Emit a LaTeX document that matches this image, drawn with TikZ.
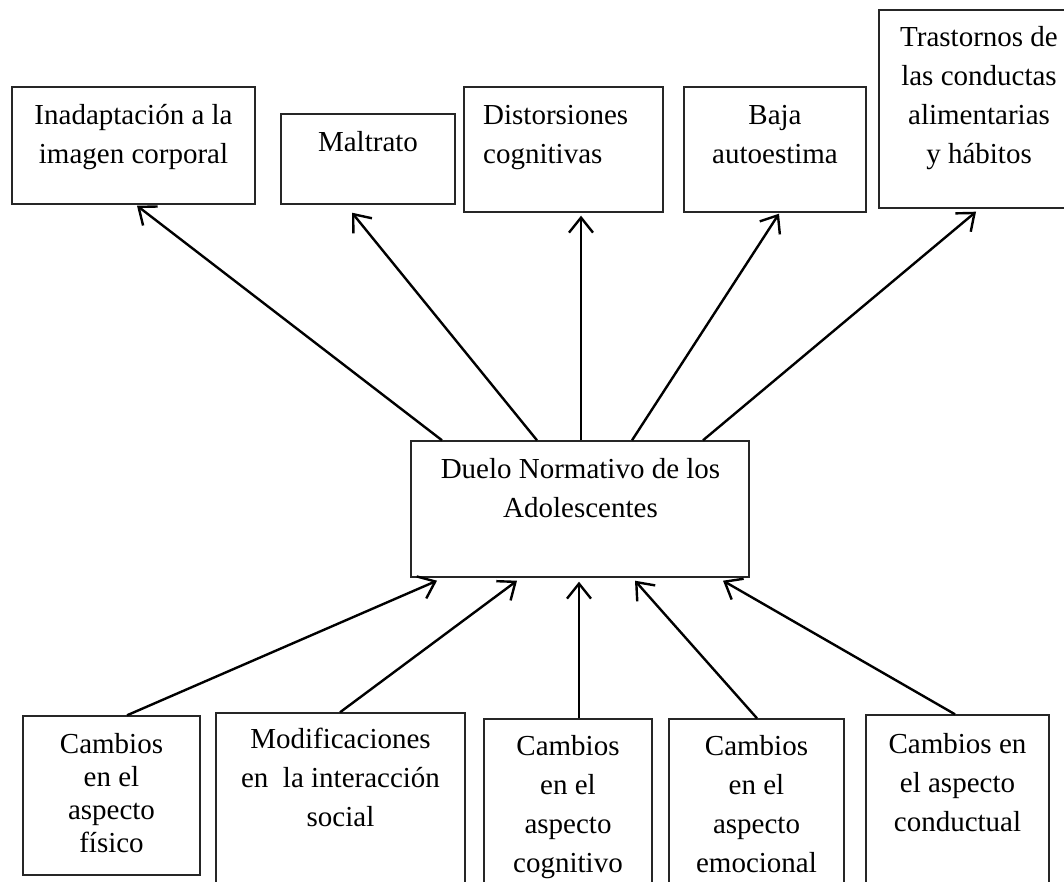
\documentclass[tikz,border=0pt]{standalone}
\usepackage{fontspec}
\setmainfont{Liberation Serif}
\usetikzlibrary{arrows.meta,fit,calc}
\newcommand\mlines[2][c]{\begin{tabular}[t]{@{}#1@{}}#2\end{tabular}}
\begin{document}
\begin{tikzpicture}[x=1pt,y=-1pt,
  box/.style={draw=black!85,line width=1.4pt,inner sep=0pt,rectangle},
  txt/.style={inner sep=0pt,anchor=base,font=\fontsize{29}{39}\selectfont},
  arr/.style={line width=2.4pt,-{Straight Barb[length=15pt,width=24pt,line width=2.4pt]}}]
\path[use as bounding box,clip] (0,0) rectangle (1064,882);
\fill[white] (0,0) rectangle (1064,882);
% top boxes
\node[box,fit={(12,87)(255,204)}] (A) {};
\node[box,fit={(281,114)(455,204)}] (B) {};
\node[box,fit={(464,87)(663,212)}] (C) {};
\node[box,fit={(684,87)(866,212)}] (D) {};
\node[box,fit={(879,10)(1078,208)}] (E) {};
% center
\node[box,fit={(411,441)(749,577)}] (M) {};
% bottom boxes
\node[box,fit={(23,716)(200,875)}] (F) {};
\node[box,fit={(216,713)(465,900)}] (G) {};
\node[box,fit={(484,719)(652,900)}] (H) {};
\node[box,fit={(669,719)(844,900)}] (I) {};
\node[box,fit={(866,715)(1049,900)}] (J) {};
% texts
\node[txt] (At) at (133.5,125) {\mlines{Inadaptación a la\\imagen corporal}};
\node[txt] (Bt) at (368,152) {Maltrato};
\node[txt,anchor=base west] (Ct) at (483,125) {\mlines[l]{Distorsiones\\cognitivas}};
\node[txt] (Dt) at (775,125) {\mlines{Baja\\autoestima}};
\node[txt] (Et) at (979,47) {\mlines{Trastornos de\\las conductas\\alimentarias\\y hábitos}};
\node[txt] (Mt) at (580.5,478) {\mlines{Duelo Normativo de los\\Adolescentes}};
\node[txt,font=\fontsize{29}{33}\selectfont] (Ft) at (111.5,753) {\mlines{Cambios\\en el\\aspecto\\físico}};
\node[txt] (Gt) at (340.5,748) {\mlines{Modificaciones\\en~~la interacción\\social}};
\node[txt] (Ht) at (568,755) {\mlines{Cambios\\en el\\aspecto\\cognitivo}};
\node[txt] (It) at (756.5,755) {\mlines{Cambios\\en el\\aspecto\\emocional}};
\node[txt] (Jt) at (957.5,753) {\mlines{Cambios en\\el aspecto\\conductual}};
% top arrows
\draw[arr] (M.north -| 442,0) -- ($(A.south -| 137,0)+(0,1)$);
\draw[arr] (M.north -| 537,0) -- ($(B.south -| 352,0)+(0,8)$);
\draw[arr] (M.north -| 581,0) -- ($(C.south -| 581,0)+(0,3)$);
\draw[arr] (M.north -| 632,0) -- ($(D.south -| 779,0)+(0,1)$);
\draw[arr] (M.north -| 703,0) -- ($(E.south -| 976,0)+(0,3)$);
% bottom arrows
\draw[arr] (F.north -| 127,0) -- ($(M.south -| 437,0)+(0,3)$);
\draw[arr] (G.north -| 340,0) -- ($(M.south -| 517,0)+(0,3)$);
\draw[arr] (H.north -| 579,0) -- ($(M.south -| 579,0)+(0,4)$);
\draw[arr] (I.north -| 757,0) -- ($(M.south -| 635,0)+(0,3)$);
\draw[arr] (J.north -| 955,0) -- ($(M.south -| 723,0)+(0,3)$);
\end{tikzpicture}
\end{document}
